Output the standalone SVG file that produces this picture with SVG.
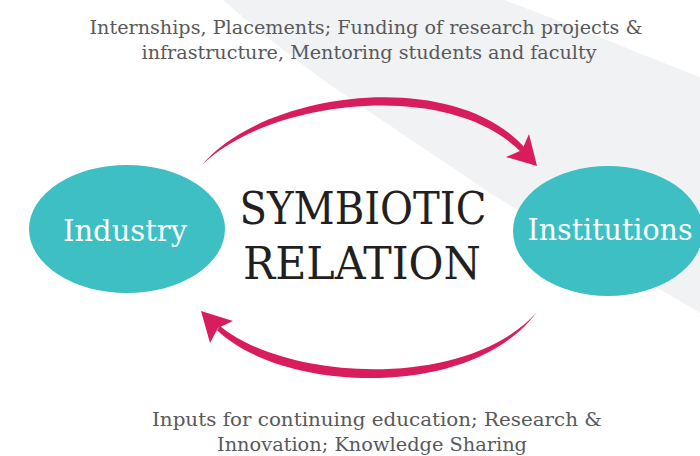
<svg xmlns="http://www.w3.org/2000/svg" width="700" height="456" viewBox="0 0 700 456">
<style>
.cap{font-family:"DejaVu Serif","Liberation Serif",serif;fill:#58595b;font-size:18.5px;text-anchor:middle}
.title{font-family:"DejaVu Serif","Liberation Serif",serif;fill:#231f20;font-size:44px;text-anchor:middle}
.lbl{font-family:"DejaVu Serif","Liberation Serif",serif;fill:#ffffff;font-size:30px;text-anchor:middle}
.node{fill:#3dbfc4}
.arc{fill:#d91c5c}
</style>
<rect width="700" height="456" fill="#ffffff"/>
<path d="M223,0 L504,0 C560,20 630,50 700,77 L700,313 C620,265 540,225 490,193 C450,165 400,133 323,80 C290,55 255,28 223,0 Z" fill="#f1f2f4"/>
<g id="caption-top">
<text class="cap" x="366" y="34" textLength="553" lengthAdjust="spacingAndGlyphs">Internships, Placements; Funding of research projects &amp;</text>
<text class="cap" x="369" y="59" textLength="455" lengthAdjust="spacingAndGlyphs">infrastructure, Mentoring students and faculty</text>
</g>
<g id="caption-bottom">
<text class="cap" x="377" y="426" textLength="450" lengthAdjust="spacingAndGlyphs">Inputs for continuing education; Research &amp;</text>
<text class="cap" x="372" y="451" textLength="310" lengthAdjust="spacingAndGlyphs">Innovation; Knowledge Sharing</text>
</g>
<g id="title">
<text class="title" x="363" y="224" textLength="247" lengthAdjust="spacingAndGlyphs">SYMBIOTIC</text>
<text class="title" x="362" y="279" textLength="238" lengthAdjust="spacingAndGlyphs">RELATION</text>
</g>
<g id="connectors">
<path class="arc" d="M202,165 C262,92 452,66 525,148 L521,152 C448,78 268,100 202,165 Z"/>
<polygon class="arc" points="537,166 529,134 522,150 506,157"/>
<path class="arc" d="M217,330 C280,392 470,402 537,312 C468,390 288,382 220,326 Z"/>
<polygon class="arc" points="201,311 233,321 218,328 210,343"/>
</g>
<g id="industry">
<ellipse class="node" cx="127" cy="229" rx="98" ry="64"/>
<text class="lbl" x="125" y="241" textLength="124" lengthAdjust="spacingAndGlyphs">Industry</text>
</g>
<g id="institutions">
<ellipse class="node" cx="608" cy="231" rx="95" ry="65"/>
<text class="lbl" x="610" y="240" textLength="165" lengthAdjust="spacingAndGlyphs">Institutions</text>
</g>
</svg>
